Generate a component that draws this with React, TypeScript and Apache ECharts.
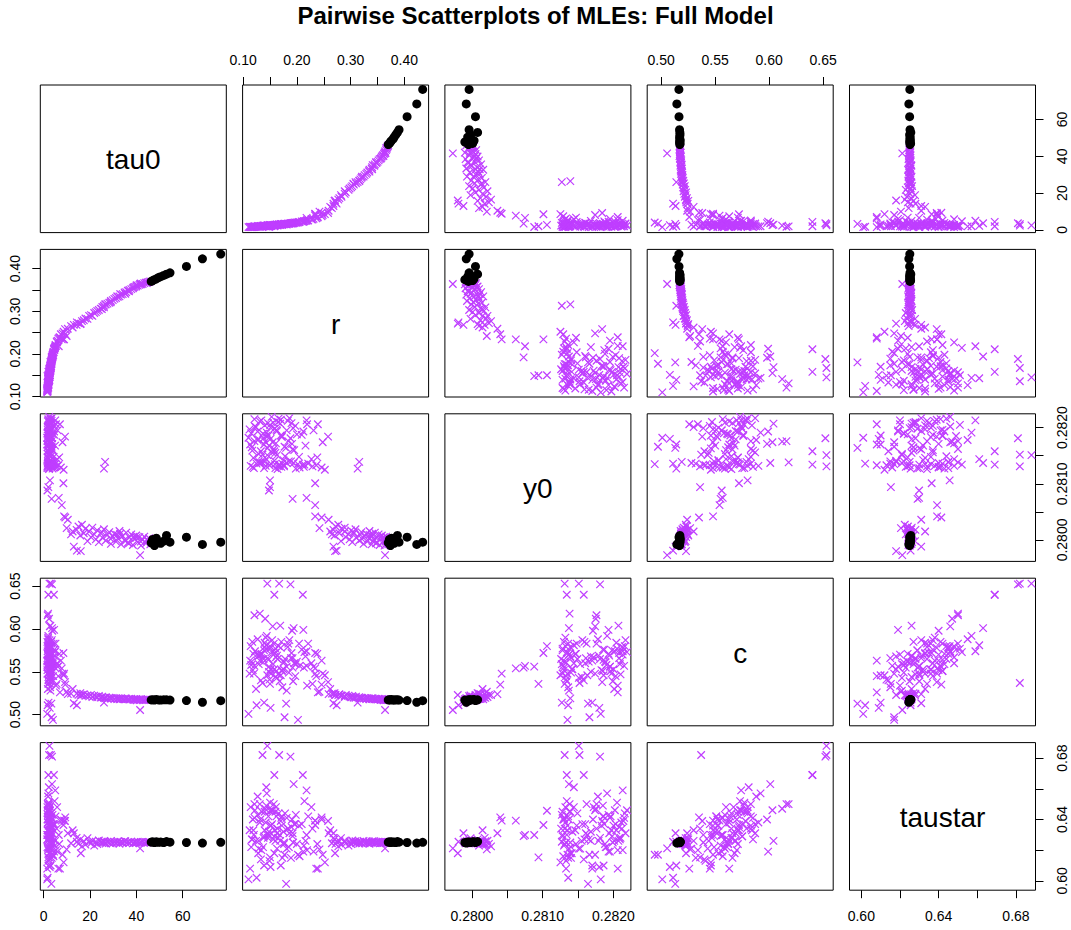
import React, { useEffect, useRef } from "react";
import * as echarts from "echarts";

// ---------- data ----------
// main arm (purple)
const armTau0 = [14.2, 15.0, 15.8, 16.5, 17.3, 18.0, 18.9, 19.6, 20.4, 21.0, 21.8, 22.5, 23.1, 23.8, 24.6, 25.3, 26.0, 26.8, 27.5, 28.3, 29.0, 29.8, 30.5, 31.2, 32.0, 32.7, 33.4, 34.1, 34.9, 35.6, 36.3, 37.0, 37.8, 38.5, 39.2, 39.9, 40.6, 41.3, 42.0, 42.7, 43.4, 44.1, 44.8, 45.5, 46.0, 25.1, 28.9, 31.7, 35.2, 38.8, 41.9, 44.5, 33.0, 36.8, 40.1];
const armR = [0.268, 0.272, 0.270, 0.277, 0.279, 0.283, 0.282, 0.289, 0.291, 0.289, 0.296, 0.298, 0.301, 0.303, 0.306, 0.310, 0.309, 0.316, 0.318, 0.320, 0.324, 0.326, 0.329, 0.331, 0.334, 0.335, 0.339, 0.340, 0.344, 0.345, 0.348, 0.350, 0.352, 0.354, 0.357, 0.358, 0.360, 0.362, 0.363, 0.364, 0.366, 0.367, 0.368, 0.369, 0.370, 0.305, 0.321, 0.335, 0.341, 0.356, 0.365, 0.366, 0.340, 0.347, 0.361];
const armY0 = [0.28018, 0.28024, 0.28008, 0.28027, 0.28012, 0.28020, 0.27998, 0.28015, 0.28005, 0.28022, 0.28010, 0.28001, 0.28017, 0.27996, 0.28012, 0.28004, 0.28019, 0.27999, 0.28009, 0.28014, 0.27993, 0.28006, 0.28011, 0.27997, 0.28003, 0.28016, 0.27992, 0.28007, 0.28000, 0.28013, 0.27995, 0.28004, 0.28010, 0.27991, 0.28002, 0.28008, 0.27996, 0.28005, 0.27990, 0.28001, 0.28006, 0.27994, 0.27999, 0.28003, 0.27992, 0.28014, 0.28002, 0.28009, 0.27998, 0.28006, 0.27997, 0.28001, 0.28011, 0.27994, 0.28004];
const armC = [0.5245, 0.5232, 0.5251, 0.5228, 0.5238, 0.5219, 0.5226, 0.5214, 0.5231, 0.5207, 0.5222, 0.5211, 0.5203, 0.5218, 0.5199, 0.5210, 0.5196, 0.5205, 0.5191, 0.5200, 0.5187, 0.5197, 0.5183, 0.5194, 0.5189, 0.5180, 0.5192, 0.5185, 0.5178, 0.5188, 0.5181, 0.5176, 0.5186, 0.5179, 0.5174, 0.5183, 0.5177, 0.5172, 0.5180, 0.5175, 0.5171, 0.5178, 0.5173, 0.5170, 0.5175, 0.5204, 0.5195, 0.5182, 0.5190, 0.5173, 0.5179, 0.5176, 0.5185, 0.5184, 0.5169];
const armTaustar = [0.6280, 0.6241, 0.6270, 0.6225, 0.6258, 0.6236, 0.6278, 0.6252, 0.6244, 0.6261, 0.6230, 0.6256, 0.6240, 0.6263, 0.6251, 0.6246, 0.6258, 0.6243, 0.6255, 0.6249, 0.6260, 0.6245, 0.6253, 0.6247, 0.6257, 0.6242, 0.6254, 0.6250, 0.6259, 0.6246, 0.6252, 0.6248, 0.6256, 0.6244, 0.6253, 0.6249, 0.6255, 0.6247, 0.6251, 0.6254, 0.6248, 0.6252, 0.6250, 0.6253, 0.6249, 0.6256, 0.6244, 0.6251, 0.6258, 0.6247, 0.6252, 0.6250, 0.6254, 0.6246, 0.6251];

// transition points (purple)
const midTau0 = [14.3, 13.0, 11.8, 9.9, 10.4, 9.3, 8.8, 7.8, 6.5, 3.4, 8.5, 2.7, 2.0, 1.6, 26.5, 26.0, 41.6, 12.5, 16.0];
const midR = [0.274, 0.268, 0.265, 0.242, 0.259, 0.246, 0.234, 0.234, 0.218, 0.192, 0.234, 0.150, 0.150, 0.148, 0.316, 0.313, 0.364, 0.262, 0.271];
const midY0 = [0.27981, 0.27988, 0.28010, 0.28021, 0.28036, 0.28040, 0.28042, 0.28062, 0.28075, 0.28073, 0.28101, 0.28106, 0.28094, 0.28088, 0.28139, 0.28127, 0.27973, 0.28015, 0.27980];
const midC = [0.5110, 0.5133, 0.5245, 0.5268, 0.5240, 0.5350, 0.5480, 0.5540, 0.5570, 0.5550, 0.5720, 0.5800, 0.5360, 0.5560, 0.5190, 0.5140, 0.5055, 0.5300, 0.5230];
const midTaustar = [0.6255, 0.6310, 0.6245, 0.6205, 0.6310, 0.6414, 0.6392, 0.6392, 0.6299, 0.6291, 0.6364, 0.6457, 0.6153, 0.6299, 0.6250, 0.6255, 0.6212, 0.6330, 0.6180];

// diffuse cluster (purple)
const spreadTau0 = [2.1, 3.0, 1.8, 4.2, 2.6, 5.1, 1.6, 3.5, 2.4, 6.3, 2.9, 1.9, 3.8, 2.2, 4.7, 1.7, 3.2, 2.7, 7.4, 2.0, 3.6, 2.5, 5.6, 1.9, 4.0, 2.3, 3.3, 8.6, 1.6, 2.8, 3.1, 4.4, 2.0, 2.6, 1.7, 3.4, 2.2, 4.1, 1.9, 3.0, 2.4, 5.3, 1.6, 2.8, 3.7, 2.1, 4.6, 2.5, 1.8, 3.2, 2.3, 6.0, 2.7, 1.7, 3.9, 2.0, 3.5, 2.9, 1.5, 4.9, 2.2, 3.1, 7.0, 2.6, 1.8, 3.8, 2.4, 4.3, 1.9, 3.3, 2.1, 5.8, 2.7, 1.6, 8.1, 9.2, 6.7, 2.5, 3.6, 2.0, 2.9, 1.7, 4.5, 2.3, 3.4, 2.6, 1.5, 5.0, 2.2, 3.0,
  1.8, 2.4, 3.1, 2.0, 2.7, 1.6, 3.6, 2.2, 2.9, 1.9, 3.3, 2.5, 4.0, 1.7, 2.3, 3.0, 2.1, 2.8, 1.8, 3.4, 2.6, 2.0, 3.7, 2.4, 1.9, 3.2, 2.2, 4.8, 2.7, 1.6];
const spreadR = [0.152, 0.176, 0.135, 0.205, 0.168, 0.221, 0.118, 0.189, 0.160, 0.236, 0.181, 0.142, 0.198, 0.128, 0.214, 0.125, 0.171, 0.158, 0.246, 0.149, 0.194, 0.139, 0.229, 0.131, 0.202, 0.164, 0.185, 0.252, 0.114, 0.173, 0.167, 0.211, 0.121, 0.146, 0.112, 0.183, 0.137, 0.197, 0.127, 0.163, 0.153, 0.219, 0.116, 0.172, 0.191, 0.133, 0.209, 0.157, 0.124, 0.178, 0.141, 0.231, 0.165, 0.119, 0.195, 0.144, 0.186, 0.160, 0.110, 0.216, 0.150, 0.175, 0.239, 0.155, 0.129, 0.193, 0.147, 0.204, 0.134, 0.180, 0.139, 0.227, 0.162, 0.117, 0.248, 0.258, 0.238, 0.145, 0.188, 0.158, 0.169, 0.121, 0.212, 0.136, 0.177, 0.151, 0.113, 0.218, 0.143, 0.170,
  0.131, 0.158, 0.172, 0.140, 0.161, 0.115, 0.190, 0.145, 0.166, 0.129, 0.181, 0.154, 0.200, 0.122, 0.148, 0.170, 0.138, 0.163, 0.127, 0.184, 0.156, 0.143, 0.192, 0.151, 0.132, 0.176, 0.140, 0.213, 0.159, 0.120];
const spreadY0 = [0.28135, 0.28131, 0.28138, 0.28129, 0.28134, 0.28136, 0.28130, 0.28140, 0.28128, 0.28133, 0.28137, 0.28132, 0.28127, 0.28139, 0.28134, 0.28136, 0.28130, 0.28141, 0.28129, 0.28133, 0.28137, 0.28128, 0.28131, 0.28138, 0.28135, 0.28126, 0.28140, 0.28125, 0.28132, 0.28136, 0.28131, 0.28134, 0.28215, 0.28208, 0.28197, 0.28212, 0.28189, 0.28203, 0.28178, 0.28194, 0.28219, 0.28206, 0.28165, 0.28183, 0.28171, 0.28158, 0.28187, 0.28162, 0.28201, 0.28149, 0.28175, 0.28195, 0.28210, 0.28146, 0.28160, 0.28191, 0.28217, 0.28155, 0.28182, 0.28168, 0.28205, 0.28142, 0.28206, 0.28174, 0.28153, 0.28199, 0.28186, 0.28148, 0.28213, 0.28164, 0.28170, 0.28144, 0.28196, 0.28159, 0.28174, 0.28184, 0.28147, 0.28151, 0.28181, 0.28158, 0.28207, 0.28176, 0.28193, 0.28152, 0.28166, 0.28180, 0.28170, 0.28213, 0.28144, 0.28186,
  0.28211, 0.28198, 0.28185, 0.28204, 0.28172, 0.28190, 0.28208, 0.28163, 0.28216, 0.28179, 0.28195, 0.28156, 0.28188, 0.28202, 0.28168, 0.28214, 0.28181, 0.28151, 0.28193, 0.28176, 0.28209, 0.28185, 0.28161, 0.28200, 0.28137, 0.28133, 0.28139, 0.28130, 0.28135, 0.28128];
const spreadC = [0.548, 0.562, 0.571, 0.557, 0.539, 0.583, 0.552, 0.566, 0.577, 0.545, 0.528, 0.590, 0.559, 0.568, 0.573, 0.511, 0.585, 0.553, 0.563, 0.541, 0.601, 0.575, 0.536, 0.618, 0.494, 0.565, 0.549, 0.546, 0.580, 0.532, 0.653, 0.640, 0.557, 0.566, 0.548, 0.579, 0.561, 0.545, 0.588, 0.569, 0.573, 0.534, 0.562, 0.552, 0.598, 0.540, 0.576, 0.583, 0.530, 0.565, 0.612, 0.556, 0.547, 0.571, 0.560, 0.592, 0.587, 0.544, 0.501, 0.568, 0.577, 0.553, 0.526, 0.603, 0.559, 0.539, 0.564, 0.583, 0.570, 0.513, 0.514, 0.560, 0.551, 0.585, 0.548, 0.538, 0.571, 0.653, 0.652, 0.640, 0.604, 0.616, 0.599, 0.537, 0.497, 0.508, 0.563, 0.574, 0.581, 0.546,
  0.563, 0.575, 0.551, 0.584, 0.567, 0.558, 0.572, 0.546, 0.580, 0.569, 0.556, 0.587, 0.562, 0.574, 0.550, 0.578, 0.565, 0.543, 0.571, 0.583, 0.559, 0.576, 0.566, 0.553, 0.570, 0.561, 0.579, 0.555, 0.572, 0.548];
const spreadTaustar = [0.636, 0.624, 0.645, 0.616, 0.630, 0.642, 0.640, 0.615, 0.645, 0.608, 0.621, 0.638, 0.643, 0.618, 0.652, 0.602, 0.641, 0.618, 0.640, 0.613, 0.663, 0.629, 0.634, 0.650, 0.617, 0.634, 0.622, 0.612, 0.648, 0.615, 0.682, 0.669, 0.641, 0.628, 0.633, 0.634, 0.622, 0.637, 0.655, 0.631, 0.646, 0.620, 0.627, 0.636, 0.640, 0.614, 0.637, 0.650, 0.626, 0.644, 0.647, 0.619, 0.628, 0.633, 0.637, 0.657, 0.631, 0.626, 0.601, 0.626, 0.651, 0.632, 0.608, 0.646, 0.621, 0.625, 0.642, 0.636, 0.620, 0.598, 0.610, 0.648, 0.642, 0.627, 0.617, 0.639, 0.624, 0.688, 0.681, 0.669, 0.626, 0.650, 0.619, 0.682, 0.617, 0.609, 0.608, 0.659, 0.661, 0.610,
  0.638, 0.629, 0.642, 0.633, 0.648, 0.622, 0.635, 0.630, 0.644, 0.626, 0.641, 0.637, 0.624, 0.646, 0.632, 0.639, 0.628, 0.621, 0.643, 0.634, 0.627, 0.649, 0.631, 0.636, 0.640, 0.625, 0.645, 0.623, 0.633, 0.630];

// highlighted points (black)
const blackTau0 = [46.4, 47.0, 47.8, 48.6, 49.5, 50.5, 51.8, 53.0, 54.5, 61.6, 68.5, 76.4];
const blackR = [0.370, 0.372, 0.374, 0.376, 0.379, 0.381, 0.384, 0.387, 0.390, 0.405, 0.423, 0.434];
const blackY0 = [0.27995, 0.28001, 0.27990, 0.28003, 0.27997, 0.27994, 0.27998, 0.28008, 0.27996, 0.28005, 0.27992, 0.27996];
const blackC = [0.5172, 0.5175, 0.5170, 0.5176, 0.5172, 0.5171, 0.5174, 0.5173, 0.5170, 0.5165, 0.5145, 0.5164];
const blackTaustar = [0.6252, 0.6255, 0.6250, 0.6254, 0.6251, 0.6253, 0.6250, 0.6256, 0.6252, 0.6250, 0.6246, 0.6251];

// axes
const varLabels = ["tau0", "r", "y0", "c", "taustar"];
const axisMin = [-1.47, 0.099, 0.279618, 0.48704, 0.5939];
const axisMax = [78.8, 0.445, 0.282246, 0.65926, 0.6901];
const tickValues = [
  [0, 20, 40, 60],
  [0.1, 0.15, 0.2, 0.25, 0.3, 0.35, 0.4],
  [0.28, 0.2805, 0.281, 0.2815, 0.282],
  [0.5, 0.55, 0.6, 0.65],
  [0.6, 0.62, 0.64, 0.66, 0.68],
];
const labelValues = [
  [0, 20, 40, 60],
  [0.1, 0.2, 0.3, 0.4],
  [0.28, 0.281, 0.282],
  [0.5, 0.55, 0.6, 0.65],
  [0.6, 0.64, 0.68],
];
const labelDecimals = [0, 2, 4, 2, 2];

const TITLE = "Pairwise Scatterplots of MLEs: Full Model";
const PURPLE = "#BF3EFF";
const FONT = "'Liberation Sans', Arial, Helvetica, sans-serif";
const X_SYMBOL = "path://M0 0L10 10M10 0L0 10";

function zip(...cols: number[][]): number[][] {
  const n = Math.min(...cols.map((c) => c.length));
  const out: number[][] = [];
  for (let i = 0; i < n; i++) out.push(cols.map((c) => c[i]));
  return out;
}

const purplePoints = [
  ...zip(armTau0, armR, armY0, armC, armTaustar),
  ...zip(midTau0, midR, midY0, midC, midTaustar),
  ...zip(spreadTau0, spreadR, spreadY0, spreadC, spreadTaustar),
];
const blackPoints = zip(blackTau0, blackR, blackY0, blackC, blackTaustar);

function buildOption() {
  const L0 = 40.3, DX = 202.3, W = 186;
  const T0 = 85, DY = 164.4, H = 147.6;
  const grids: any[] = [];
  const xAxes: any[] = [];
  const yAxes: any[] = [];
  const series: any[] = [];
  const graphics: any[] = [];

  const makeAxis = (v: number, k: number, isX: boolean, show: boolean, position: string) => ({
    type: "value",
    gridIndex: k,
    min: axisMin[v],
    max: axisMax[v],
    position,
    axisLine: { show: false, onZero: false },
    splitLine: { show: false },
    axisTick: {
      show,
      inside: false,
      length: 8,
      lineStyle: { color: "#000", width: 1 },
      customValues: tickValues[v],
    },
    axisLabel: {
      show,
      customValues: labelValues[v],
      formatter: (val: number) => Number(val).toFixed(labelDecimals[v]),
      margin: isX ? (position === "top" ? 18 : 19) : position === "left" ? 18 : 19,
      rotate: isX ? 0 : 90,
      color: "#000",
      fontSize: 14,
      fontFamily: FONT,
      showMinLabel: true,
      showMaxLabel: true,
      hideOverlap: false,
    },
  });

  // title
  graphics.push({
    type: "text",
    x: 1071 / 2,
    y: 15,
    silent: true,
    style: {
      text: TITLE,
      fill: "#000",
      fontSize: 24,
      fontWeight: "bold",
      fontFamily: FONT,
      align: "center",
      verticalAlign: "middle",
    },
  });

  for (let i = 0; i < 5; i++) {
    for (let j = 0; j < 5; j++) {
      const k = i * 5 + j;
      const left = L0 + DX * j;
      const top = T0 + DY * i;
      grids.push({
        left,
        top,
        width: W,
        height: H,
        show: true,
        borderColor: "#000",
        borderWidth: 1,
        backgroundColor: "transparent",
        containLabel: false,
        outerBoundsMode: "none",
      });
      const showX = (i === 0 && j % 2 === 1) || (i === 4 && j % 2 === 0);
      const xPos = i === 0 ? "top" : "bottom";
      const showY = (j === 0 && i % 2 === 1) || (j === 4 && i % 2 === 0);
      const yPos = j === 0 ? "left" : "right";
      xAxes.push(makeAxis(j, k, true, showX, xPos));
      yAxes.push(makeAxis(i, k, false, showY, yPos));

      if (i === j) {
        graphics.push({
          type: "text",
          x: left + W / 2,
          y: top + H / 2 + 1,
          silent: true,
          style: {
            text: varLabels[i],
            fill: "#000",
            fontSize: 28,
            fontFamily: FONT,
            align: "center",
            verticalAlign: "middle",
          },
        });
        continue;
      }
      series.push({
        type: "scatter",
        xAxisIndex: k,
        yAxisIndex: k,
        silent: true,
        symbol: X_SYMBOL,
        symbolSize: 7.5,
        itemStyle: { color: PURPLE, borderColor: PURPLE, borderWidth: 1.2, opacity: 1 },
        data: purplePoints.map((p) => [p[j], p[i]]),
        z: 2,
      });
      series.push({
        type: "scatter",
        xAxisIndex: k,
        yAxisIndex: k,
        silent: true,
        symbol: "circle",
        symbolSize: 9,
        itemStyle: { color: "#000", opacity: 1 },
        data: blackPoints.map((p) => [p[j], p[i]]),
        z: 3,
      });
    }
  }

  return {
    animation: false,
    backgroundColor: "#fff",
    tooltip: { show: false },
    grid: grids,
    xAxis: xAxes,
    yAxis: yAxes,
    series,
    graphic: graphics,
  };
}

export default function App() {
  const ref = useRef<HTMLDivElement>(null);
  useEffect(() => {
    document.body.style.margin = "0";
    document.body.style.padding = "0";
    if (!ref.current) return;
    const chart = echarts.init(ref.current, undefined, { renderer: "svg" });
    chart.setOption(buildOption() as any);
    return () => chart.dispose();
  }, []);
  return (
    <div
      ref={ref}
      style={{ position: "absolute", left: 0, top: 0, width: 1071, height: 930, background: "#fff" }}
    />
  );
}
